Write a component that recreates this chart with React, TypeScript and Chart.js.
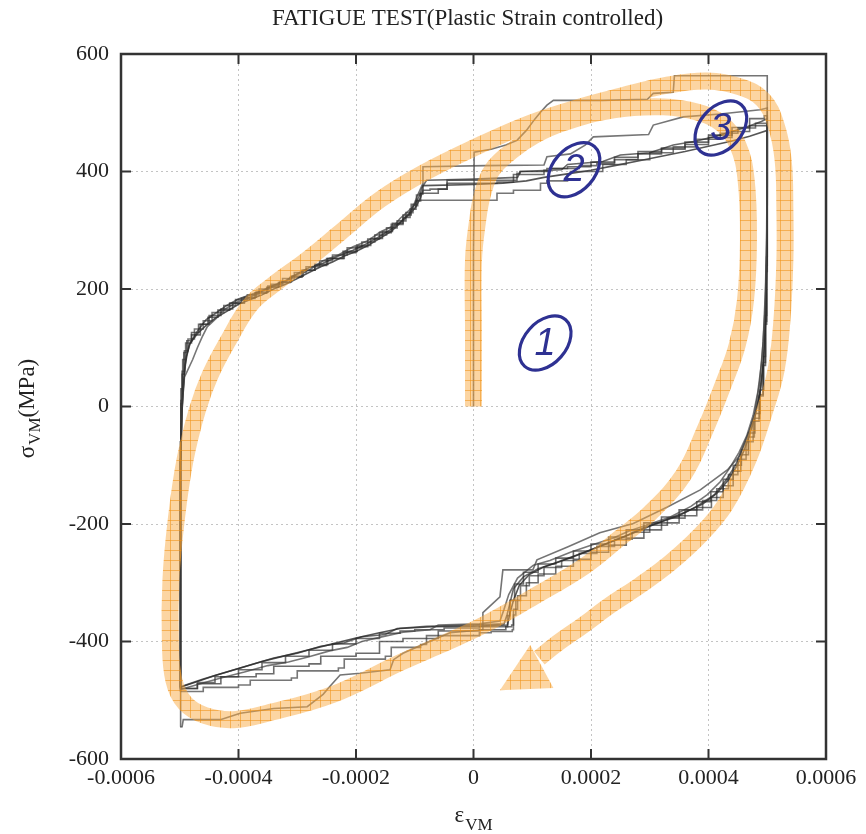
import React, { useEffect, useRef } from 'react';
import { Chart, registerables } from 'chart.js';

Chart.register(...registerables);

// ---------- axis set-up ----------
const strainMin = -0.0006;
const strainMax = 0.0006;
const strainStep = 0.0002;
const stressMin = -600;
const stressMax = 600;
const stressStep = 200;

// ---------- gray hysteresis loops: [strain, stress(MPa)] ----------
const cycle1: [number, number][] = [
  [0, 0], [0, 120], [0, 260], [0.000001, 380], [0.000001, 433], [0.00003, 438], [0.000055, 445], [0.000074, 453],
  [0.00009, 470], [0.000105, 490], [0.000114, 501], [0.000125, 513], [0.000136, 521], [0.00022, 521], [0.000296, 523],
  [0.000306, 533], [0.00034, 535], [0.000342, 563], [0.0005, 563],
  [0.0005, 420], [0.000499, 300], [0.000497, 200], [0.000493, 110], [0.000487, 40], [0.000478, -15], [0.000466, -55],
  [0.000452, -85], [0.000432, -108], [0.000386, -142], [0.00033, -171], [0.000272, -199], [0.000215, -215],
  [0.00016, -239], [0.000108, -261], [0.000101, -278], [0.00005, -278], [0.000045, -324], [0.000016, -351],
  [0.000016, -380], [-0.00004, -385], [-0.000068, -397], [-0.00012, -420], [-0.000136, -431], [-0.000142, -448],
  [-0.000193, -454], [-0.000227, -457], [-0.000245, -477], [-0.000256, -490], [-0.000283, -511], [-0.00034, -514],
  [-0.000397, -522], [-0.000431, -533], [-0.000494, -533], [-0.000496, -545], [-0.000499, -545],
];

const cycle2: [number, number][] = [
  [-0.000499, -545], [-0.000499, -300], [-0.000498, -100], [-0.000496, 0], [-0.000492, 50], [-0.000478, 80],
  [-0.00047, 100], [-0.000462, 118], [-0.000453, 136], [-0.000438, 150], [-0.000426, 164], [-0.000402, 178],
  [-0.000385, 184], [-0.00036, 196], [-0.000341, 204], [-0.00032, 212], [-0.000307, 222], [-0.00028, 232],
  [-0.000256, 248], [-0.00023, 258], [-0.000205, 272], [-0.00018, 282], [-0.000159, 297], [-0.000135, 308],
  [-0.000125, 320], [-0.000103, 340], [-0.000095, 360], [-0.000086, 380], [-0.000086, 408], [0.00002, 410],
  [0.00012, 411], [0.000125, 425], [0.000165, 430], [0.00019, 445], [0.000204, 459], [0.000298, 463],
  [0.000306, 479], [0.000357, 493], [0.00042, 498], [0.000488, 505], [0.0005, 508],
  [0.0005, 380], [0.000499, 260], [0.000496, 160], [0.000491, 80], [0.000484, 25], [0.000476, -15], [0.000465, -50],
  [0.000452, -78], [0.000436, -105], [0.00042, -128], [0.000398, -150], [0.00037, -170], [0.000335, -188],
  [0.0003, -200], [0.000265, -212], [0.000238, -224], [0.0002, -236], [0.000165, -248], [0.00013, -262],
  [0.000102, -270], [0.000075, -292], [0.00006, -320], [0.000052, -345], [0.000045, -365], [0.00001, -370],
  [-0.00006, -372], [-0.000074, -380], [-0.00012, -384], [-0.00016, -393], [-0.00019, -400], [-0.000215, -410],
  [-0.000245, -416], [-0.00028, -426], [-0.000315, -435], [-0.00035, -441], [-0.00039, -452], [-0.00043, -462],
  [-0.000465, -472], [-0.00049, -479], [-0.000499, -482],
];

const cycle3: [number, number][] = [
  [-0.000499, -482], [-0.000499, -280], [-0.000498, -80], [-0.000495, 20], [-0.000491, 70], [-0.000484, 105],
  [-0.00047, 128], [-0.000455, 148], [-0.000437, 160], [-0.00042, 172], [-0.0004, 183], [-0.00038, 190],
  [-0.00036, 197], [-0.000341, 206], [-0.00032, 214], [-0.0003, 226], [-0.00028, 236], [-0.000256, 244],
  [-0.00023, 256], [-0.000205, 266], [-0.00018, 278], [-0.000159, 290], [-0.00014, 302], [-0.000125, 314],
  [-0.00011, 328], [-0.0001, 345], [-0.000091, 360], [-0.000088, 372], [-0.00008, 385], [0, 387], [0.000075, 390],
  [0.00008, 400], [0.00015, 403], [0.00016, 412], [0.00022, 417], [0.00025, 428], [0.0003, 432], [0.00034, 445],
  [0.00038, 452], [0.00042, 462], [0.00046, 474], [0.00049, 485], [0.0005, 490],
  [0.0005, 360], [0.000499, 250], [0.000497, 150], [0.000494, 80], [0.000489, 30], [0.00048, -10], [0.00047, -40],
  [0.000458, -70], [0.000446, -100], [0.00043, -125], [0.00041, -150], [0.00038, -170], [0.00035, -186],
  [0.00032, -196], [0.00029, -206], [0.00026, -220], [0.00023, -232], [0.0002, -244], [0.00017, -255],
  [0.00014, -266], [0.00011, -276], [0.000085, -290], [0.000068, -310], [0.000062, -335], [0.000057, -355],
  [0.000052, -370], [0, -372], [-0.00008, -374], [-0.00013, -378], [-0.00015, -388], [-0.00019, -392],
  [-0.00022, -402], [-0.00026, -408], [-0.0003, -420], [-0.00034, -428], [-0.00038, -440], [-0.00042, -452],
  [-0.00046, -464], [-0.00049, -474], [-0.000499, -478],
];

const cycle4: [number, number][] = [
  [-0.000499, -478], [-0.000499, -250], [-0.000498, -60], [-0.000495, 30], [-0.00049, 80], [-0.00048, 108],
  [-0.000465, 122], [-0.00045, 140], [-0.00043, 155], [-0.00041, 166], [-0.00039, 176], [-0.00037, 186],
  [-0.00035, 195], [-0.00033, 205], [-0.00031, 212], [-0.00029, 222], [-0.00027, 232], [-0.00025, 240],
  [-0.00022, 252], [-0.0002, 262], [-0.00018, 272], [-0.00016, 285], [-0.00014, 296], [-0.00012, 310],
  [-0.000108, 322], [-0.000098, 336], [-0.00009, 350], [-0.000086, 362], [-0.000074, 368], [-0.000045, 370],
  [-0.000045, 378], [0.00004, 380], [0.000068, 382], [0.000068, 392], [0.00012, 395], [0.000125, 402],
  [0.00018, 405], [0.00021, 410], [0.00024, 413], [0.00028, 420], [0.00032, 430], [0.00036, 438], [0.0004, 446],
  [0.00044, 458], [0.00047, 468], [0.0005, 478],
  [0.0005, 340], [0.000499, 230], [0.000497, 140], [0.000493, 70], [0.000487, 20], [0.000478, -20],
  [0.000468, -52], [0.000455, -82], [0.000442, -110], [0.000425, -135], [0.000405, -155], [0.00038, -172],
  [0.00035, -186], [0.00032, -198], [0.00029, -210], [0.00026, -224], [0.00023, -236], [0.0002, -248],
  [0.00017, -260], [0.00014, -272], [0.00011, -285], [0.00009, -300], [0.000075, -322], [0.000068, -345],
  [0.000065, -372], [0.00001, -375], [-0.00005, -377], [-0.0001, -380], [-0.000125, -382], [-0.00016, -386],
  [-0.0002, -395], [-0.00024, -404], [-0.00028, -415], [-0.00032, -425], [-0.00036, -436], [-0.0004, -448],
  [-0.00044, -460], [-0.00047, -470], [-0.000499, -480],
];

const cycle5: [number, number][] = [
  [-0.000499, -480], [-0.000499, -260], [-0.000498, -70], [-0.000496, 10], [-0.000492, 60], [-0.000486, 95],
  [-0.000475, 115], [-0.00046, 132], [-0.000445, 146], [-0.000425, 160], [-0.000405, 172], [-0.000385, 182],
  [-0.000365, 190], [-0.000345, 200], [-0.000325, 208], [-0.000305, 218], [-0.000285, 228], [-0.000262, 238],
  [-0.00024, 248], [-0.000215, 258], [-0.00019, 270], [-0.000168, 280], [-0.000148, 292], [-0.00013, 304],
  [-0.000115, 316], [-0.000103, 330], [-0.000095, 342], [-0.000074, 351], [0.00004, 351], [0.000068, 363],
  [0.000114, 368], [0.000125, 380], [0.00016, 384], [0.000165, 395], [0.00022, 400], [0.00026, 412],
  [0.0003, 420], [0.00034, 432], [0.00038, 442], [0.00042, 455], [0.00045, 465], [0.00048, 474], [0.0005, 482],
  [0.0005, 350], [0.000499, 240], [0.000497, 145], [0.000493, 75], [0.000486, 18], [0.000476, -25],
  [0.000464, -60], [0.00045, -90], [0.000434, -116], [0.000414, -140], [0.00039, -160], [0.00036, -176],
  [0.00033, -190], [0.0003, -202], [0.00027, -214], [0.00024, -226], [0.00021, -238], [0.00018, -250],
  [0.00015, -262], [0.00012, -274], [0.000095, -288], [0.00008, -305], [0.000072, -330], [0.000068, -355],
  [0.000066, -380], [0.00003, -383], [0.00001, -385], [-0.00008, -390], [-0.00009, -405], [-0.00014, -410],
  [-0.00015, -425], [-0.00022, -430], [-0.00023, -445], [-0.0003, -450], [-0.00031, -462], [-0.00038, -466],
  [-0.0004, -474], [-0.00046, -478], [-0.000499, -485],
];

const cycle6: [number, number][] = [
  [-0.000499, -485], [-0.000499, -270], [-0.000498, -90], [-0.000496, 5], [-0.000493, 55], [-0.000488, 92],
  [-0.00048, 112], [-0.000468, 126], [-0.000452, 140], [-0.000435, 152], [-0.000415, 164], [-0.000395, 176],
  [-0.000372, 184], [-0.000352, 193], [-0.000332, 203], [-0.000312, 211], [-0.000292, 220], [-0.00027, 232],
  [-0.000248, 242], [-0.000222, 252], [-0.000198, 264], [-0.000175, 274], [-0.000155, 286], [-0.000138, 298],
  [-0.00012, 312], [-0.000106, 326], [-0.000097, 344], [-0.000092, 360], [-0.00006, 363], [-0.000045, 370],
  [-0.000045, 385], [0.000074, 385], [0.000079, 397], [0.00013, 400], [0.00016, 405], [0.0002, 408],
  [0.00024, 416], [0.00028, 424], [0.00032, 434], [0.00036, 440], [0.0004, 450], [0.00044, 462], [0.00047, 475],
  [0.000495, 490], [0.0005, 495],
  [0.0005, 370], [0.000499, 255], [0.000497, 155], [0.000494, 85], [0.000488, 28], [0.000479, -12],
  [0.000468, -45], [0.000456, -74], [0.000442, -100], [0.000425, -124], [0.000404, -145], [0.00038, -162],
  [0.00035, -176], [0.00032, -188], [0.00029, -198], [0.00026, -210], [0.00023, -222], [0.0002, -234],
  [0.00017, -246], [0.00014, -258], [0.00011, -268], [0.000085, -282], [0.00007, -302], [0.000062, -330],
  [0.000058, -356], [0.000055, -375], [0.00001, -380], [-0.00006, -382], [-0.00012, -395], [-0.00016, -400],
  [-0.0002, -420], [-0.00026, -425], [-0.00028, -438], [-0.00034, -442], [-0.00037, -455], [-0.00043, -460],
  [-0.00047, -472], [-0.000499, -480],
];

const cycle7: [number, number][] = [
  [-0.000499, -480], [-0.000499, -290], [-0.000498, -95], [-0.000496, -5], [-0.000493, 45], [-0.000489, 85],
  [-0.000482, 108], [-0.00047, 124], [-0.000455, 138], [-0.00044, 150], [-0.00042, 162], [-0.0004, 174],
  [-0.00038, 182], [-0.00036, 190], [-0.00034, 200], [-0.00032, 208], [-0.0003, 218], [-0.00028, 228],
  [-0.00026, 238], [-0.00024, 246], [-0.00022, 256], [-0.0002, 264], [-0.00018, 274], [-0.00016, 286],
  [-0.00014, 298], [-0.000125, 312], [-0.00011, 326], [-0.000098, 340], [-0.00009, 356], [-0.000086, 368],
  [-0.000086, 376], [0, 378], [0.00005, 380], [0.00009, 384], [0.00012, 390], [0.00016, 396], [0.0002, 402],
  [0.00024, 410], [0.00028, 418], [0.00032, 426], [0.00036, 434], [0.0004, 443], [0.00044, 452], [0.00047, 460],
  [0.0005, 470],
  [0.0005, 345], [0.000499, 235], [0.000497, 140], [0.000493, 72], [0.000487, 22], [0.000479, -18],
  [0.00047, -48], [0.00046, -76], [0.000448, -102], [0.000433, -126], [0.000414, -148], [0.00039, -166],
  [0.00036, -180], [0.00033, -192], [0.0003, -204], [0.00027, -216], [0.00024, -228], [0.00021, -240],
  [0.00018, -252], [0.00015, -263], [0.00012, -273], [0.000095, -286], [0.000078, -304], [0.000068, -330],
  [0.000062, -352], [0.000058, -372], [0, -374], [-0.00007, -375], [-0.000125, -378], [-0.00016, -385],
  [-0.0002, -394], [-0.00024, -404], [-0.00028, -414], [-0.00032, -424], [-0.00036, -434], [-0.0004, -446],
  [-0.00044, -458], [-0.00047, -468], [-0.000499, -478],
];

const grayCycles = [cycle1, cycle2, cycle3, cycle4, cycle5, cycle6, cycle7];
const steppedCycles = [false, false, false, true, true, true, false];

// ---------- orange annotation spiral ----------
const spiralPath: [number, number][] = [
  [0, 0], [0, 130], [0, 249], [0.000006, 309], [0.000015, 360], [0.000032, 403], [0.000068, 437],
  [0.000105, 462], [0.000153, 483], [0.000238, 505], [0.000323, 510], [0.000381, 501], [0.000423, 481],
  [0.00045, 445], [0.000464, 386], [0.000468, 283], [0.000463, 181], [0.000449, 105], [0.000425, 37],
  [0.000394, -40], [0.000357, -117], [0.000301, -181], [0.000245, -227], [0.000187, -273], [0.000102, -324],
  [0.000017, -372], [-0.000057, -406], [-0.000125, -436], [-0.000239, -490], [-0.000351, -522],
  [-0.000409, -533], [-0.000457, -526], [-0.000491, -505], [-0.00051, -466], [-0.000516, -397],
  [-0.000515, -295], [-0.000506, -193], [-0.000491, -91], [-0.00047, -6], [-0.000448, 54], [-0.000417, 113],
  [-0.00038, 173], [-0.000341, 207], [-0.000283, 250], [-0.000227, 296], [-0.000159, 352], [-0.000086, 397],
  [0.000011, 445], [0.000096, 482], [0.000182, 510], [0.00025, 528], [0.00033, 547], [0.000398, 554],
  [0.000454, 544], [0.000493, 522], [0.000515, 479], [0.000527, 420], [0.00053, 335], [0.00053, 249],
  [0.000525, 147], [0.000515, 62], [0.000496, -6], [0.000467, -91], [0.000428, -168], [0.000386, -219],
  [0.000335, -266], [0.000284, -304], [0.000233, -338], [0.000187, -372], [0.000139, -406], [0.000112, -428],
];
const arrowHead: [number, number][] = [
  [0.000045, -483], [0.0000965, -406], [0.000136, -479], [0.000045, -483],
];

// ---------- circled step numbers ----------
const markerLabels = ['1', '2', '3'];
const markerStrain = [0.000122, 0.000171, 0.000421];
const markerStress = [108, 403, 474];

const SERIF = '"Liberation Serif", "Times New Roman", serif';

function makeHatch(): CanvasPattern | string {
  const c = document.createElement('canvas');
  c.width = 10;
  c.height = 10;
  const g = c.getContext('2d');
  if (!g) return 'rgba(250,170,60,0.5)';
  g.fillStyle = 'rgba(250,172,70,0.5)';
  g.fillRect(0, 0, 10, 10);
  g.fillStyle = 'rgba(240,145,20,0.55)';
  g.fillRect(0, 0, 10, 1);
  g.fillRect(0, 0, 1, 10);
  const p = g.createPattern(c, 'repeat');
  return p || 'rgba(250,170,60,0.5)';
}

const decorPlugin = {
  id: 'decor',
  afterDraw(chart: any) {
    const { ctx, chartArea } = chart;
    const { left, right, top, bottom } = chartArea;
    const xs = chart.scales.x;
    const ys = chart.scales.y;
    ctx.save();
    // frame
    ctx.strokeStyle = '#333';
    ctx.lineWidth = 2.5;
    ctx.strokeRect(left, top, right - left, bottom - top);
    // inward ticks
    ctx.lineWidth = 2;
    const tl = 10;
    xs.ticks.forEach((t: any) => {
      const px = xs.getPixelForValue(t.value);
      ctx.beginPath();
      ctx.moveTo(px, bottom);
      ctx.lineTo(px, bottom - tl);
      ctx.moveTo(px, top);
      ctx.lineTo(px, top + tl);
      ctx.stroke();
    });
    ys.ticks.forEach((t: any) => {
      const py = ys.getPixelForValue(t.value);
      ctx.beginPath();
      ctx.moveTo(left, py);
      ctx.lineTo(left + tl, py);
      ctx.moveTo(right, py);
      ctx.lineTo(right - tl, py);
      ctx.stroke();
    });

    // circled step numbers
    markerLabels.forEach((lab, i) => {
      const px = xs.getPixelForValue(markerStrain[i]);
      const py = ys.getPixelForValue(markerStress[i]);
      ctx.beginPath();
      ctx.ellipse(px, py, 31, 21, -0.85, 0, Math.PI * 2);
      ctx.strokeStyle = '#2e3192';
      ctx.lineWidth = 3.2;
      ctx.stroke();
      ctx.fillStyle = '#2e3192';
      ctx.font = 'italic 38px "Liberation Sans", Arial, sans-serif';
      ctx.textAlign = 'center';
      ctx.textBaseline = 'middle';
      ctx.fillText(lab, px, py + 1);
    });

    ctx.fillStyle = '#222';
    // title
    ctx.font = `23px ${SERIF}`;
    ctx.textAlign = 'center';
    ctx.textBaseline = 'alphabetic';
    ctx.fillText('FATIGUE TEST(Plastic Strain controlled)', (left + right) / 2 - 6, 25);

    // x-axis title: ε with subscript VM
    const cx = (left + right) / 2;
    ctx.textAlign = 'left';
    ctx.font = `23px ${SERIF}`;
    const epsW = ctx.measureText('ε').width;
    ctx.font = `17px ${SERIF}`;
    const vmW = ctx.measureText('VM').width;
    const totalX = epsW + 1 + vmW;
    const sx = cx - totalX / 2;
    ctx.font = `23px ${SERIF}`;
    ctx.fillText('ε', sx, 822);
    ctx.font = `17px ${SERIF}`;
    ctx.fillText('VM', sx + epsW + 1, 830);

    // y-axis title: σ_VM(MPa), rotated
    ctx.translate(34, (top + bottom) / 2 + 2);
    ctx.rotate(-Math.PI / 2);
    ctx.font = `23px ${SERIF}`;
    const sW = ctx.measureText('σ').width;
    const mW = ctx.measureText('(MPa)').width;
    ctx.font = `17px ${SERIF}`;
    const vW = ctx.measureText('VM').width;
    const tot = sW + vW + mW + 1;
    let lx = -tot / 2;
    ctx.font = `23px ${SERIF}`;
    ctx.fillText('σ', lx, 0);
    lx += sW + 1;
    ctx.font = `17px ${SERIF}`;
    ctx.fillText('VM', lx, 6);
    lx += vW;
    ctx.font = `23px ${SERIF}`;
    ctx.fillText('(MPa)', lx, 0);
    ctx.restore();
  },
};

function fmtStrain(v: number): string {
  const n = Number(v.toFixed(4));
  return n === 0 ? '0' : String(n);
}

export default function App() {
  const ref = useRef<HTMLCanvasElement | null>(null);

  useEffect(() => {
    document.body.style.margin = '0';
    const canvas = ref.current;
    if (!canvas) return;
    const hatch = makeHatch();

    const grayColors = [
      'rgba(70,70,70,0.75)',
      'rgba(60,60,60,0.7)',
      'rgba(40,40,40,0.7)',
      'rgba(50,50,50,0.7)',
      'rgba(60,60,60,0.7)',
      'rgba(45,45,45,0.7)',
      'rgba(30,30,30,0.75)',
    ];

    const datasets: any[] = grayCycles.map((cyc, i) => ({
      label: `cycle ${i + 1}`,
      data: cyc.map(([x, y]) => ({ x, y })),
      showLine: true,
      borderColor: grayColors[i],
      borderWidth: 1.6,
      pointRadius: 0,
      tension: 0,
      stepped: steppedCycles[i] ? 'after' : false,
      fill: false,
      order: 2,
    }));

    datasets.push({
      label: 'path',
      data: spiralPath.map(([x, y]) => ({ x, y })),
      showLine: true,
      borderColor: hatch,
      borderWidth: 17,
      borderCapStyle: 'butt',
      borderJoinStyle: 'round',
      pointRadius: 0,
      tension: 0.4,
      fill: false,
      order: 1,
    });
    datasets.push({
      label: 'arrow',
      data: arrowHead.map(([x, y]) => ({ x, y })),
      showLine: true,
      borderWidth: 0,
      borderColor: 'rgba(0,0,0,0)',
      backgroundColor: hatch,
      pointRadius: 0,
      tension: 0,
      fill: 'shape',
      order: 0,
    });

    const chart = new Chart(canvas, {
      type: 'scatter',
      data: { datasets },
      options: {
        animation: false,
        responsive: false,
        devicePixelRatio: 1,
        layout: { padding: { top: 54, right: 40, left: 0, bottom: 0 } },
        plugins: {
          legend: { display: false },
          tooltip: { enabled: false },
          title: { display: false },
        },
        scales: {
          x: {
            type: 'linear',
            min: strainMin,
            max: strainMax,
            ticks: {
              stepSize: strainStep,
              callback: (v: any) => fmtStrain(Number(v)),
              font: { family: SERIF, size: 22 },
              color: '#222',
              padding: 6,
              maxRotation: 0,
              autoSkip: false,
            },
            grid: { color: '#c4c4c4', lineWidth: 1, drawTicks: false },
            border: { display: false, dash: [2, 3] },
            afterFit: (s: any) => {
              s.height = 75;
            },
          },
          y: {
            type: 'linear',
            min: stressMin,
            max: stressMax,
            ticks: {
              stepSize: stressStep,
              font: { family: SERIF, size: 22 },
              color: '#222',
              padding: 12,
            },
            grid: { color: '#c4c4c4', lineWidth: 1, drawTicks: false },
            border: { display: false, dash: [2, 3] },
            afterFit: (s: any) => {
              s.width = 121;
            },
          },
        },
      },
      plugins: [decorPlugin],
    } as any);

    return () => chart.destroy();
  }, []);

  return (
    <div style={{ width: 866, height: 834 }}>
      <canvas ref={ref} width={866} height={834} style={{ display: 'block', width: 866, height: 834 }} />
    </div>
  );
}
